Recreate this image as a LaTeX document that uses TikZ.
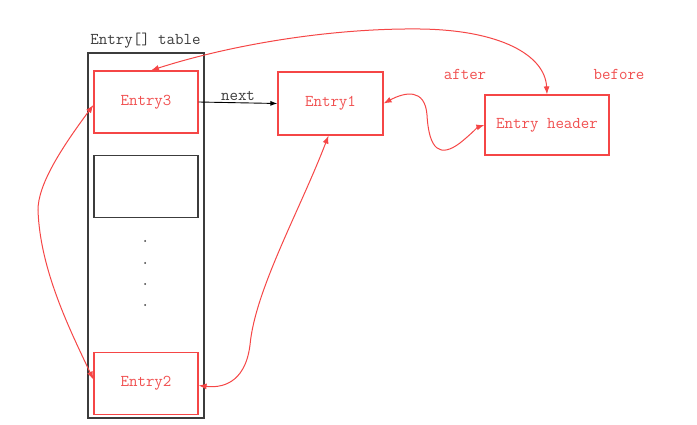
\documentclass[tikz,border=0pt]{standalone}
\usetikzlibrary{arrows.meta}
\definecolor{lred}{RGB}{245,70,70}
\definecolor{tred}{RGB}{240,80,80}
\definecolor{dgray}{RGB}{60,60,60}
\tikzset{
  x=1pt,y=-1pt,
  lbl/.style={font=\ttfamily\fontsize{16.5}{18}\selectfont, inner sep=0pt},
  redbox/.style={draw=lred, line width=1.2pt, minimum width=104pt, minimum height=62pt, text=tred, font=\ttfamily\fontsize{16.5}{18}\selectfont, inner sep=0pt},
  blkbox/.style={draw=dgray, line width=1.2pt, minimum width=104pt, minimum height=62pt, inner sep=0pt},
  redline/.style={draw=lred, line width=1pt, {Latex[length=8pt,width=6pt]}-{Latex[length=8pt,width=6pt]}},
  dotn/.style={circle, fill=dgray, inner sep=0pt, minimum size=2pt}
}
\begin{document}
\begin{tikzpicture}
\useasboundingbox (0,0) rectangle (697,425);
% table
\node[draw=dgray, line width=1.3pt, minimum width=116pt, minimum height=365pt, inner sep=0pt] (tbl) at (146,235.5) {};
\node[lbl, text=dgray] (tlab) at (145.5,41) {Entry[] table};
\node[redbox] (e3) at (146,102) {Entry3};
\node[blkbox] (emp) at (146,186.5) {};
\node[dotn] (d1) at (145,241) {};
\node[dotn] (d2) at (145,263) {};
\node[dotn] (d3) at (145,284) {};
\node[dotn] (d4) at (145,305) {};
\node[redbox] (e2) at (146,383.5) {Entry2};
\node[redbox, minimum width=105pt, minimum height=63pt] (e1) at (330.5,103.5) {Entry1};
\node[redbox, minimum width=124pt, minimum height=60pt] (hdr) at (547,125) {Entry header};
\node[lbl, text=tred] (after) at (465,74) {after};
\node[lbl, text=tred] (before) at (619,74) {before};
% next arrow
\draw[draw=black, line width=0.9pt, -{Latex[length=7pt,width=5pt]}] (e3.east) -- node[lbl, above=2pt, text=dgray] (nxt) {next} (e1.west);
% curves
\draw[redline] ([xshift=5pt]e3.north) .. controls (230,45) and (330,28) .. (420,29) .. controls (500,30) and (545,55) .. (hdr.north);
\draw[redline] (e1.east) .. controls (405,92) and (425,88) .. (427,115) .. controls (429,150) and (440,158) .. (460,143) .. controls (470,135) and (478,127) .. (hdr.west);
\draw[redline] ([yshift=-3pt]e3.west) .. controls (60,150) and (38,185) .. (38,210) .. controls (40,270) and (70,330) .. ([yshift=4pt]e2.west);
\draw[redline] ([xshift=-2pt]e1.south) .. controls (300,210) and (255,290) .. (250,345) .. controls (245,385) and (220,388) .. ([yshift=-2pt]e2.east);
\end{tikzpicture}
\end{document}
